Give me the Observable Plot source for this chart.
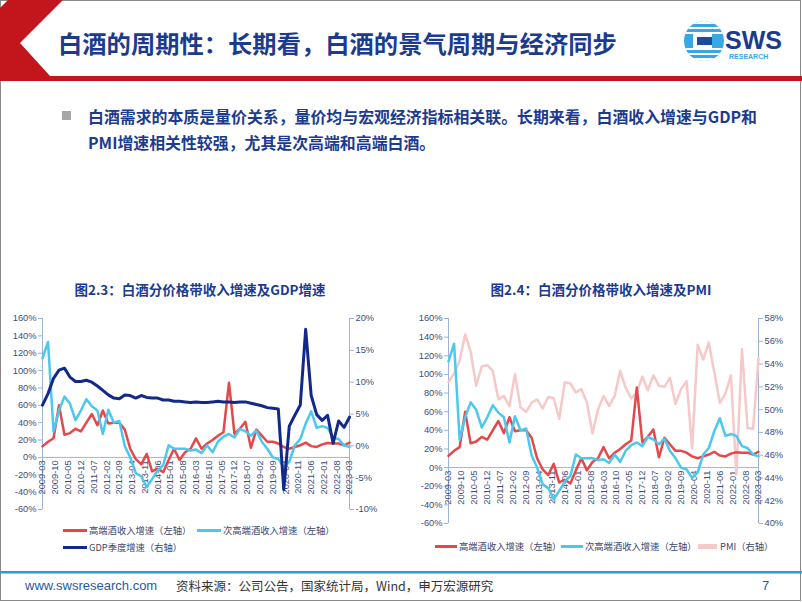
<!DOCTYPE html>
<html><head><meta charset="utf-8">
<script src="https://cdn.jsdelivr.net/npm/d3@7"></script>
<script src="https://cdn.jsdelivr.net/npm/@observablehq/plot@0.6"></script>
<style>
body{margin:0;background:#fff;}
#slide{position:relative;width:802px;height:602px;overflow:hidden;background:#fff;font-family:"Noto Sans CJK SC","Liberation Sans",sans-serif;}
.abs{position:absolute;white-space:nowrap;}
.lg{position:absolute;white-space:nowrap;font-size:9.3px;line-height:12px;color:#3c466e;}
.sw{position:absolute;height:3px;}
</style></head><body>
<div id="slide">
<svg class="abs" style="left:0;top:0" width="802" height="602">
  <rect x="0.5" y="0.5" width="800" height="600" fill="none" stroke="#8a8a8a"/>
  <polygon points="8,0 63,0 20,43 50,76 802,76 802,81 0,81 0,8" fill="#C3161C"/>
  <defs><clipPath id="lc"><circle cx="704" cy="41" r="20"/></clipPath></defs>
  <g clip-path="url(#lc)">
    <rect x="684" y="21" width="40" height="40" fill="#38A7E2"/>
    <rect x="684" y="21" width="40" height="3" fill="#fff"/>
    <rect x="684" y="27" width="40" height="2" fill="#fff"/>
    <rect x="684" y="32" width="40" height="2" fill="#fff"/>
    <rect x="684" y="48" width="40" height="2" fill="#fff"/>
    <rect x="684" y="53" width="40" height="2" fill="#fff"/>
    <rect x="684" y="58" width="40" height="3" fill="#fff"/>
    <rect x="693" y="34" width="19" height="14" fill="#fff"/>
    <rect x="697" y="37" width="15" height="8" fill="#1C4B9C"/>
  </g>
  <text x="725" y="49" font-family="Liberation Sans" font-weight="bold" font-size="25" fill="#1B3B8F">SWS</text>
  <text x="729" y="59" font-family="Liberation Sans" font-weight="bold" font-size="7" fill="#38A7E2">RESEARCH</text>
  <rect x="0" y="571" width="802" height="2.5" fill="#2E9AD0"/>
</svg>

<div class="abs" style="left:58px;top:28px;font-size:24.3px;line-height:30px;font-weight:bold;color:#1B3B8F;">白酒的周期性：长期看，白酒的景气周期与经济同步</div>

<div class="abs" style="left:62px;top:111px;width:9px;height:9px;background:#A6A6A6;"></div>
<div class="abs" style="left:88px;top:104px;font-size:15.9px;line-height:26px;font-weight:bold;color:#1B3B8F;">白酒需求的本质是量价关系，量价均与宏观经济指标相关联。长期来看，白酒收入增速与GDP和<br>PMI增速相关性较强，尤其是次高端和高端白酒。</div>

<div class="abs" style="left:0;width:400px;top:280px;text-align:center;font-size:13.5px;line-height:18px;font-weight:bold;color:#1B3B8F;">图2.3：白酒分价格带收入增速及GDP增速</div>
<div class="abs" style="left:400px;width:402px;top:280px;text-align:center;font-size:13.5px;line-height:18px;font-weight:bold;color:#1B3B8F;">图2.4：白酒分价格带收入增速及PMI</div>

<div id="c1" class="abs" style="left:0;top:305px;"></div>
<div id="c2" class="abs" style="left:400px;top:305px;"></div>

<div class="sw" style="left:63px;top:529px;width:24px;background:#E5484A;"></div>
<div class="lg" style="left:89px;top:524px;">高端酒收入增速（左轴）</div>
<div class="sw" style="left:197px;top:529px;width:24px;background:#4CC7EE;"></div>
<div class="lg" style="left:223px;top:524px;">次高端酒收入增速（左轴）</div>
<div class="sw" style="left:63px;top:546px;width:24px;background:#12298A;"></div>
<div class="lg" style="left:89px;top:541px;">GDP季度增速（右轴）</div>

<div class="sw" style="left:435px;top:545px;width:22px;background:#E5484A;"></div>
<div class="lg" style="left:459px;top:540px;">高端酒收入增速（左轴）</div>
<div class="sw" style="left:561px;top:545px;width:22px;background:#4CC7EE;"></div>
<div class="lg" style="left:585px;top:540px;">次高端酒收入增速（左轴）</div>
<div class="sw" style="left:698px;top:544px;width:19px;height:5px;background:#F6C9C9;"></div>
<div class="lg" style="left:720px;top:540px;">PMI（右轴）</div>

<div class="abs" style="left:25px;top:578px;font-family:'Liberation Sans';font-size:13px;line-height:16px;color:#1F5AA6;">www.swsresearch.com</div>
<div class="abs" style="left:176px;top:578px;font-size:12.5px;line-height:16px;color:#333;">资料来源：公司公告，国家统计局，Wind，申万宏源研究</div>
<div class="abs" style="left:762px;top:578px;font-family:'Liberation Sans';font-size:13px;line-height:16px;color:#1F5AA6;">7</div>
</div>

<script>
const quarters = ["2009-03","2009-06","2009-09","2009-12","2010-03","2010-06","2010-09","2010-12",
"2011-03","2011-06","2011-09","2011-12","2012-03","2012-06","2012-09","2012-12",
"2013-03","2013-06","2013-09","2013-12","2014-03","2014-06","2014-09","2014-12",
"2015-03","2015-06","2015-09","2015-12","2016-03","2016-06","2016-09","2016-12",
"2017-03","2017-06","2017-09","2017-12","2018-03","2018-06","2018-09","2018-12",
"2019-03","2019-06","2019-09","2019-12","2020-03","2020-06","2020-09","2020-12",
"2021-03","2021-06","2021-09","2021-12","2022-03","2022-06","2022-09","2022-12","2023-03"];

// 高端酒收入增速 (%)
const highEnd = [12.7,18,22,60,26,28,33,30, 40,50,37,54,39,40,40,32,
  10,-2,-8,4,-16,-13,-17,-3, 10,-3,6,10,22,10,16,20,
  25,29,86,27,33,41,11,32, 25,18,18,16,12,10,12,14,
  17,13,12,15,16.5,16,16,14,17];
// 次高端酒收入增速 (%)
const subHighEnd = [114,133,30,54,70,62,43,54, 67,59,54,27,55,40,42,13,
  0,-18,-22,-34,-25,-15,-9,14, 10,10,10,8,9,5,14,6,
  18,24,27,23,33,30,25,31, 18,10,0,-2,-11,-5,14,21,
  39,53,34,36,34,23,21,14,12];
// GDP季度增速 (%)
const gdp = [6.4,8.2,10.6,11.9,12.2,10.8,10.1,10.1,
  10.3,10.0,9.4,8.7,8.0,7.5,7.4,8.0,
  7.9,7.5,7.9,7.6,7.5,7.5,7.2,7.2,
  7.0,7.0,6.9,6.8,6.9,6.8,6.8,6.9,
  7.0,6.9,6.9,6.8,6.9,6.9,6.7,6.5,
  6.3,6.0,5.9,5.8,-6.9,3.1,4.8,6.4,
  18.3,7.9,4.9,4.0,4.8,0.4,3.9,2.9,4.5];
// PMI (%)
const pmi = [52.4,53.2,54.3,56.6,55.1,52.1,53.8,53.9,
  53.4,50.9,51.2,50.3,53.1,50.2,49.8,50.6,
  50.9,50.1,51.1,51.0,49.2,52.4,52.3,51.5,
  51.8,50.6,47.9,50.0,51.2,50.3,51.2,53.4,
  51.9,51.0,51.5,52.9,51.7,53.0,52.1,52.0,
  52.8,50.5,51.8,52.5,46.6,55.7,54.4,55.9,
  53.3,50.6,51.4,53.0,44.3,55.3,48.4,48.3,54.5];

const xTickLabels = ["2009-03","2009-10","2010-05","2010-12","2011-07","2012-02","2012-09","2013-04",
"2013-11","2014-06","2015-01","2015-08","2016-03","2016-10","2017-05","2017-12","2018-07","2019-02",
"2019-09","2020-04","2020-11","2021-06","2022-01","2022-08","2023-03"];
const leftTicks = [-60,-40,-20,0,20,40,60,80,100,120,140,160];
const gdpTicks = [-10,-5,0,5,10,15,20];
const pmiTicks = [40,42,44,46,48,50,52,54,56,58];

const RED = "#E5484A", SUB = "#4CC7EE", NAVY = "#12298A", PINK = "#F6C9C9";
const AXIS = "#9DB2DA", LABEL = "#3E4C7C";

const parse = d3.utcParse("%Y-%m");
const rows = quarters.map((q, i) => ({date: parse(q), high: highEnd[i], sub: subHighEnd[i], gdp: gdp[i], pmi: pmi[i]}));
const xDomain = [parse(quarters[0]), parse(quarters[quarters.length - 1])];
const LMIN = -60, LMAX = 160;
const gdpToL = g => LMIN + (g + 10) * (LMAX - LMIN) / 30;
const lToGdp = v => (v - LMIN) * 30 / (LMAX - LMIN) - 10;
const pmiToL = p => LMIN + (p - 40) * (LMAX - LMIN) / 18;
const lToPmi = v => (v - LMIN) * 18 / (LMAX - LMIN) + 40;

function baseMarks(rightTicks, rightFmt) {
  return [
    Plot.ruleX([xDomain[0]], {stroke: AXIS, strokeWidth: 1}),
    Plot.ruleX([xDomain[1]], {stroke: AXIS, strokeWidth: 1}),
    Plot.ruleY([0], {stroke: AXIS, strokeWidth: 1}),
    Plot.axisY({ticks: leftTicks, anchor: "left", tickSize: 4, tickPadding: 2, stroke: AXIS, fill: LABEL, tickFormat: d => d + "%", label: null}),
    Plot.axisY({ticks: rightTicks, anchor: "right", tickSize: 4, tickPadding: 2, stroke: AXIS, fill: LABEL, tickFormat: rightFmt, label: null}),
    Plot.text(xTickLabels, {x: d => parse(d), y: 0, text: d => d, rotate: -90, textAnchor: "end", lineAnchor: "middle", dy: 3, fontSize: 9.3, fill: LABEL})
  ];
}

const style = {fontFamily: "Liberation Sans", fontSize: "9.3px", color: LABEL, background: "transparent", overflow: "visible"};

const chart1 = Plot.plot({
  width: 400, height: 220,
  marginLeft: 42, marginRight: 51, marginTop: 13, marginBottom: 16,
  style,
  x: {type: "utc", domain: xDomain, axis: null},
  y: {domain: [LMIN, LMAX], axis: null},
  marks: [
    ...baseMarks(gdpTicks.map(gdpToL), v => Math.round(lToGdp(v)) + "%"),
    Plot.line(rows, {x: "date", y: "high", stroke: RED, strokeWidth: 2.5}),
    Plot.line(rows, {x: "date", y: "sub", stroke: SUB, strokeWidth: 2.5}),
    Plot.line(rows, {x: "date", y: d => gdpToL(d.gdp), stroke: NAVY, strokeWidth: 3})
  ]
});
document.getElementById("c1").appendChild(chart1);

const chart2 = Plot.plot({
  width: 402, height: 230,
  marginLeft: 48, marginRight: 44, marginTop: 13, marginBottom: 12,
  style,
  x: {type: "utc", domain: xDomain, axis: null},
  y: {domain: [LMIN, LMAX], axis: null},
  marks: [
    ...baseMarks(pmiTicks.map(pmiToL), v => Math.round(lToPmi(v)) + "%"),
    Plot.line(rows, {x: "date", y: d => pmiToL(d.pmi), stroke: PINK, strokeWidth: 2.5}),
    Plot.line(rows, {x: "date", y: "high", stroke: RED, strokeWidth: 2.5}),
    Plot.line(rows, {x: "date", y: "sub", stroke: SUB, strokeWidth: 2.5})
  ]
});
document.getElementById("c2").appendChild(chart2);
</script>
</body></html>
